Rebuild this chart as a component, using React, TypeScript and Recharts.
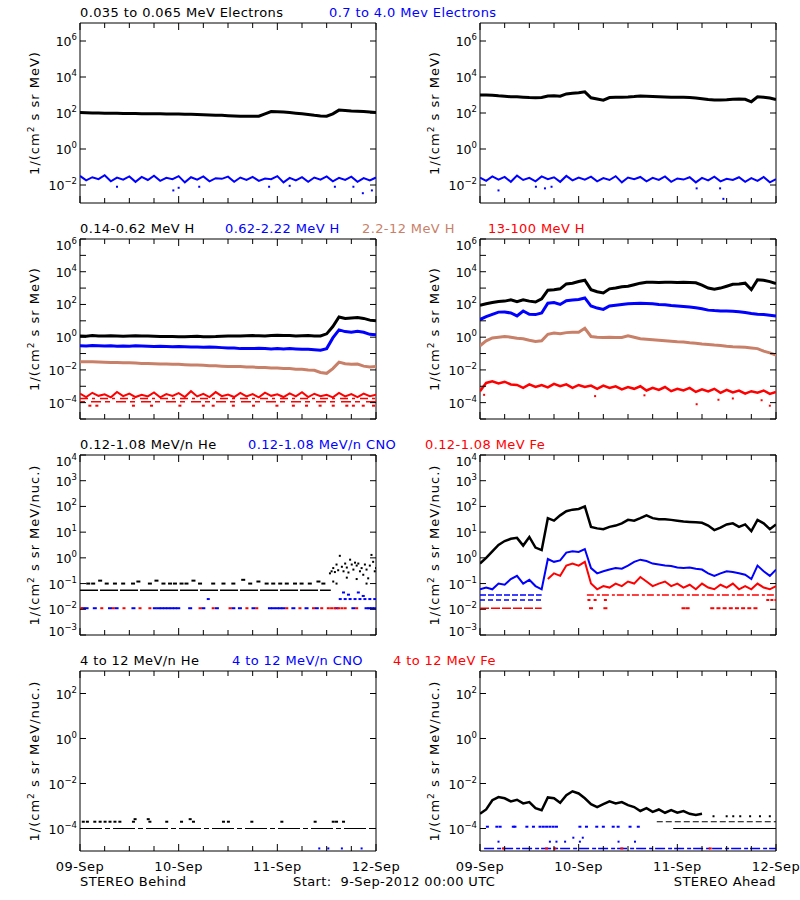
import React from "react"
import { ComposedChart, Line, Scatter, XAxis, YAxis, ReferenceArea } from "recharts"

// hours since 9-Sep-2012 00:00 UTC, 1.5 h steps
const HOURS = [
  0, 1.5, 3, 4.5, 6, 7.5, 9,
  10.5, 12, 13.5, 15, 16.5, 18, 19.5,
  21, 22.5, 24, 25.5, 27, 28.5, 30,
  31.5, 33, 34.5, 36, 37.5, 39, 40.5,
  42, 43.5, 45, 46.5, 48, 49.5, 51,
  52.5, 54, 55.5, 57, 58.5, 60, 61.5,
  63, 64.5, 66, 67.5, 69, 70.5, 72,
]
const X_TICKS = [0, 6, 12, 18, 24, 30, 36, 42, 48, 54, 60, 66, 72]
const DAY_TICKS = [0, 24, 48, 72]
const DAY_LABELS = ["09-Sep", "10-Sep", "11-Sep", "12-Sep"]

// y tick marks / labelled ticks for each row
const ROW1_MARKS = [1e-2, 1, 1e2, 1e4, 1e6]
const ROW1_LABELS = [1e-2, 1, 1e2, 1e4, 1e6]
const ROW2_MARKS = [1e-5, 1e-4, 1e-3, 1e-2, 1e-1, 1, 1e1, 1e2, 1e3, 1e4, 1e5, 1e6]
const ROW2_LABELS = [1e-4, 1e-2, 1, 1e2, 1e4, 1e6]
const ROW3_MARKS = [1e-3, 1e-2, 1e-1, 1, 1e1, 1e2, 1e3, 1e4]
const ROW3_LABELS = [1e-3, 1e-2, 1e-1, 1, 1e1, 1e2, 1e3, 1e4]
const ROW4_MARKS = [1e-4, 1e-2, 1, 1e2]
const ROW4_LABELS = [1e-4, 1e-2, 1, 1e2]

// --- electrons
const behindElecLow = [
  105, 102, 100, 100, 98, 97, 96,
  95, 94, 93, 92, 91, 90, 90,
  89, 88, 87, 85, 84, 82, 80,
  78, 76, 74, 71, 69, 67, 66,
  66, 66, 90, 120, 118, 112, 105,
  98, 90, 82, 74, 68, 66, 90,
  145, 138, 130, 125, 122, 115, 108,
]
const behindElecHigh = [
  0.032, 0.018, 0.027, 0.021, 0.035, 0.016, 0.026,
  0.02, 0.03, 0.015, 0.028, 0.019, 0.033, 0.017,
  0.025, 0.021, 0.031, 0.014, 0.027, 0.02, 0.03,
  0.016, 0.024, 0.022, 0.029, 0.015, 0.026, 0.019,
  0.028, 0.017, 0.023, 0.021, 0.031, 0.014, 0.025,
  0.018, 0.027, 0.015, 0.026, 0.02, 0.03, 0.016,
  0.025, 0.019, 0.029, 0.015, 0.024, 0.018, 0.026,
]
const behindElecHighOutT = [9, 22.7, 24, 29, 46, 51, 62, 66.5, 68.8, 71]
const behindElecHighOutV = [0.008, 0.005, 0.007, 0.008, 0.008, 0.009, 0.008, 0.008, 0.0035, 0.005]

const aheadElecLow = [
  1000, 1000, 980, 900, 850, 800, 800,
  760, 720, 700, 720, 880, 900, 850,
  1150, 1250, 1350, 1500, 700, 600, 520,
  720, 740, 760, 780, 820, 880, 850,
  820, 800, 780, 760, 750, 740, 720,
  680, 620, 560, 530, 520, 540, 580,
  600, 580, 420, 800, 760, 680, 560,
]
const aheadElecHigh = [
  0.026, 0.017, 0.03, 0.02, 0.028, 0.015, 0.033,
  0.019, 0.025, 0.016, 0.03, 0.021, 0.027, 0.015,
  0.032, 0.018, 0.026, 0.02, 0.029, 0.016, 0.024,
  0.019, 0.031, 0.014, 0.026, 0.021, 0.028, 0.016,
  0.025, 0.019, 0.03, 0.015, 0.023, 0.02, 0.027,
  0.014, 0.025, 0.018, 0.029, 0.016, 0.022, 0.019,
  0.027, 0.015, 0.024, 0.017, 0.028, 0.014, 0.021,
]
const aheadElecHighOutT = [4.5, 13.6, 15.8, 17.4, 52.7, 58.4, 59.2]
const aheadElecHighOutV = [0.005, 0.008, 0.0065, 0.008, 0.0065, 0.0065, 0.0017]

// --- protons
const behindH1 = [
  1.2, 1.15, 1.25, 1.2, 1.18, 1.22, 1.2,
  1.15, 1.2, 1.22, 1.18, 1.2, 1.15, 1.12,
  1.1, 1.1, 1.08, 1.05, 1.1, 1.12, 1.05,
  1.08, 1.1, 1.15, 1.2, 1.18, 1.2, 1.22,
  1.25, 1.22, 1.2, 1.25, 1.3, 1.28, 1.25,
  1.2, 1.22, 1.25, 1.2, 1.18, 1.6, 4.5,
  17, 14, 15, 16, 14, 11, 10,
]
const behindH2 = [
  0.3, 0.29, 0.31, 0.3, 0.29, 0.3, 0.28,
  0.29, 0.28, 0.3, 0.29, 0.28, 0.27, 0.28,
  0.27, 0.26, 0.27, 0.26, 0.25, 0.25, 0.24,
  0.25, 0.24, 0.23, 0.22, 0.22, 0.2, 0.2,
  0.2, 0.21, 0.2, 0.19, 0.2, 0.19, 0.2,
  0.19, 0.18, 0.18, 0.17, 0.16, 0.2, 0.9,
  2.8, 2.2, 2.0, 2.3, 2.0, 1.5, 1.4,
]
const behindH3 = [
  0.032, 0.031, 0.031, 0.03, 0.029, 0.028, 0.028,
  0.027, 0.027, 0.026, 0.025, 0.025, 0.024, 0.023,
  0.023, 0.022, 0.022, 0.021, 0.02, 0.02, 0.019,
  0.018, 0.018, 0.017, 0.016, 0.016, 0.016, 0.015,
  0.015, 0.014, 0.014, 0.013, 0.013, 0.012, 0.012,
  0.011, 0.011, 0.01, 0.0095, 0.007, 0.0062, 0.012,
  0.03, 0.024, 0.022, 0.023, 0.017, 0.015, 0.016,
]
const behindH4 = [
  3.5e-4, 2.2e-4, 4e-4, 2.6e-4, 3.2e-4, 2.1e-4, 4.5e-4,
  2.5e-4, 3.6e-4, 2.2e-4, 3e-4, 2.4e-4, 4.2e-4, 2.1e-4,
  3.3e-4, 2.6e-4, 3.8e-4, 2.2e-4, 5e-4, 2.4e-4, 3.4e-4,
  2.2e-4, 4.4e-4, 2.5e-4, 3.1e-4, 2.2e-4, 3.9e-4, 2.4e-4,
  3.3e-4, 2.1e-4, 4.1e-4, 2.6e-4, 3.2e-4, 2.2e-4, 3.7e-4,
  2.4e-4, 4.3e-4, 2.2e-4, 3.5e-4, 2.5e-4, 3e-4, 2.1e-4,
  3.9e-4, 2.4e-4, 3.3e-4, 2.2e-4, 3.6e-4, 2.5e-4, 3e-4,
]
const behindH4LowT = [2.4, 4.1, 13, 17.4, 24.3, 30, 32.4, 37.3, 42.2, 47.9, 51.9, 55.1, 58.4, 61.6, 64.9, 66.5, 68.9, 71.4]
const H4_LEVEL_A = 1.8e-4
const H4_LEVEL_B = 1.15e-4
const H4_LEVEL_C = 6.5e-5

const aheadH1 = [
  90, 110, 130, 150, 160, 190, 150,
  190, 160, 140, 220, 750, 800, 900,
  1800, 2000, 2500, 3000, 800, 600, 500,
  900, 1000, 1200, 1300, 1600, 2000, 2300,
  2300, 2200, 2300, 2300, 2200, 2300, 2200,
  2100, 1500, 1000, 850, 1000, 1300, 1700,
  1800, 2000, 800, 3200, 3000, 2500, 1900,
]
const aheadH2 = [
  12, 18, 25, 34, 35, 30, 20,
  40, 25, 24, 30, 120, 130, 100,
  170, 190, 200, 250, 80, 60, 50,
  80, 90, 100, 110, 115, 120, 115,
  110, 100, 95, 85, 80, 75, 70,
  62, 55, 45, 42, 40, 40, 38,
  36, 32, 28, 25, 24, 22, 20,
]
const aheadH3 = [
  0.3, 0.6, 0.9, 1.0, 1.1, 1.0, 0.85,
  0.8, 0.65, 0.55, 0.6, 1.5, 1.8, 1.6,
  1.9, 2.0, 2.0, 3.5, 1.1, 1.0, 0.95,
  1.0, 0.95, 0.95, 1.2, 1.0, 0.8, 0.75,
  0.7, 0.65, 0.6, 0.56, 0.52, 0.5, 0.45,
  0.42, 0.38, 0.36, 0.33, 0.31, 0.28, 0.26,
  0.25, 0.24, 0.22, 0.2, 0.14, 0.11, 0.08,
]
const aheadH4 = [
  5e-4, 1.6e-3, 2e-3, 1.5e-3, 1.9e-3, 1.3e-3, 1.2e-3,
  8e-4, 1.3e-3, 9e-4, 1.2e-3, 8.5e-4, 1.4e-3, 1e-3,
  1.3e-3, 8e-4, 1.2e-3, 9e-4, 1.1e-3, 7e-4, 1.1e-3,
  8e-4, 1e-3, 6.5e-4, 9e-4, 7e-4, 1e-3, 5.5e-4,
  8e-4, 6e-4, 9e-4, 5e-4, 7e-4, 5.5e-4, 8e-4,
  4.5e-4, 6.5e-4, 4.8e-4, 7e-4, 4e-4, 6e-4, 4.2e-4,
  5.5e-4, 3.5e-4, 5e-4, 4e-4, 5.5e-4, 3.4e-4, 4.5e-4,
]
const aheadH4OutT = [1, 28, 40, 52.7, 58, 61.5, 68.5, 70.5]
const aheadH4OutV = [3e-4, 2.5e-4, 2.8e-4, 8e-5, 1.5e-4, 1.8e-4, 1.4e-4, 6.5e-5]

// --- 0.12-1.08 MeV/n heavy ions
const BEHIND_HE_FLOOR = 0.055
const behindHeUpT = [2, 3.2, 4.9, 6.5, 8.5, 10.5, 12.9, 14.2, 17, 18.6, 20.3, 21.9, 23.1, 24.7, 25.9, 27.6, 29.2, 32.4, 34.9, 37.3, 39.7, 41.4, 43.4, 45.4, 47, 48.7, 50.3, 52.3, 53.9, 55.9, 58, 59.2]
const behindHeUpV = [0.1, 0.1, 0.13, 0.1, 0.1, 0.1, 0.1, 0.12, 0.1, 0.13, 0.1, 0.1, 0.1, 0.1, 0.1, 0.13, 0.1, 0.1, 0.1, 0.1, 0.14, 0.1, 0.12, 0.1, 0.1, 0.1, 0.1, 0.1, 0.1, 0.1, 0.12, 0.1]
const behindHeLateT = [60.8, 61.2, 61.6, 62, 62.4, 62.8, 63.2, 63.7, 64.1, 64.5, 64.9, 65.3, 65.7, 66.1, 66.5, 66.9, 67.3, 67.7, 68.1, 68.5, 68.9, 69.3, 69.7, 70.1, 70.5, 70.9, 71.3, 71.7, 72, 62.4, 64.9, 67.3, 69.7, 61.6]
const behindHeLateV = [0.25, 0.3, 0.4, 0.28, 0.55, 0.33, 1.2, 0.45, 0.3, 0.6, 0.42, 0.27, 0.85, 0.55, 0.35, 0.65, 0.5, 0.6, 0.3, 0.4, 0.22, 0.55, 0.35, 0.16, 0.5, 1.3, 0.7, 0.3, 0.4, 0.1, 0.17, 0.15, 0.1, 0.12]
const ONE_COUNT_LOW = 0.011
const behindCnoT = [0.8, 1.6, 3.6, 7.3, 8.9, 13, 18.2, 19.1, 19.9, 20.7, 21.5, 22.3, 23.1, 23.9, 26.8, 30, 33.3, 37.3, 38.9, 42.2, 46.2, 47, 47.9, 48.7, 49.5, 51.9, 55.1, 57.6, 62.4, 66.5, 69.7, 70.4, 71, 71.7]
const behindFeT = [0.4, 5.3, 8.1, 10.7, 14.6, 17, 29.2, 32.4, 36.5, 40.6, 43, 50.3, 53.5, 56.8, 58.8, 60.4, 61.2, 62, 62.9, 63.7, 64.5, 67.3]
const behindCnoHiT = [31.2, 63.3, 64.5, 65.7, 66.9, 68.1, 69.3, 70.5, 71.7, 65.3, 67.7, 68.9, 64.1]
const behindCnoHiV = [0.025, 0.025, 0.025, 0.025, 0.025, 0.025, 0.025, 0.025, 0.025, 0.037, 0.045, 0.033, 0.045]

const aheadHe = [
  0.6, 1.0, 1.8, 3.2, 4.5, 5.5, 6.0,
  3.0, 6.5, 2.5, 2.0, 35, 28, 45,
  65, 75, 80, 100, 16, 14, 13,
  16, 18, 22, 30, 28, 35, 45,
  35, 32, 32, 30, 28, 26, 25,
  24, 23, 18, 12, 15, 20, 22,
  16, 20, 11, 30, 22, 13, 20,
]
const aheadCno = [
  0.06, 0.07, 0.06, 0.1, 0.09, 0.15, 0.2,
  0.1, 0.14, 0.08, 0.06, 0.9, 0.7, 0.8,
  1.6, 1.8, 1.7, 2.2, 0.4, 0.25, 0.3,
  0.35, 0.4, 0.38, 0.5, 0.7, 0.85, 0.75,
  0.6, 0.55, 0.5, 0.48, 0.42, 0.4, 0.42,
  0.38, 0.35, 0.25, 0.2, 0.25, 0.3, 0.28,
  0.25, 0.22, 0.15, 0.5, 0.3, 0.2, 0.35,
]
const aheadFe = [
  null, null, null, null, null, null, null,
  null, null, null, null, 0.15, 0.25, 0.2,
  0.5, 0.6, 0.5, 0.7, 0.1, 0.06, 0.08,
  0.07, 0.1, 0.08, 0.12, 0.1, 0.18, 0.12,
  0.08, 0.1, 0.12, 0.08, 0.1, 0.07, 0.09,
  0.06, 0.1, 0.07, 0.06, 0.09, 0.07, 0.1,
  0.06, 0.08, 0.06, 0.1, 0.07, 0.06, 0.08,
]
const LEVEL_036 = 0.036
const LEVEL_023 = 0.023
const aheadFe023T = [26.5, 28, 30.5, 70, 71, 72]
const aheadFe011T = [27, 30.5, 49.5, 50.5, 56.5, 58, 59.5, 61, 62.5, 64, 65.5, 67]

// --- 4-12 MeV/n heavy ions
const HI_FLOOR = 1e-4
const HI_LEVEL2 = 2e-4
const behindHeHiT = [0.8, 1.8, 3.6, 4.9, 6.1, 7.3, 8.5, 9.7, 13, 13.4, 16.6, 17, 21.1, 24.7, 26.8, 27.6, 34.9, 36.1, 41.8, 49.1, 57.2, 61.6, 62.4, 64.1]
const behindHeHiV = [2e-4, 2e-4, 2e-4, 2e-4, 2e-4, 2e-4, 2e-4, 2e-4, 2e-4, 2.6e-4, 2.6e-4, 2e-4, 2e-4, 2e-4, 2.6e-4, 2e-4, 2e-4, 2e-4, 2e-4, 2e-4, 2e-4, 2e-4, 2e-4, 2e-4]
const CNO_HI_FLOOR = 1.3e-5
const behindCnoHiT2 = [58.2, 60.4, 63.7, 68.5]

const aheadHeHi = [
  4.5e-4, 7e-4, 1.8e-3, 2.5e-3, 2.2e-3, 1.6e-3, 1.9e-3,
  1.3e-3, 1.5e-3, 8e-4, 6.5e-4, 2.4e-3, 2.2e-3, 1.4e-3,
  3e-3, 4.5e-3, 3.6e-3, 2.2e-3, 1.2e-3, 9e-4, 1.2e-3,
  1.6e-3, 1.3e-3, 1.5e-3, 1.1e-3, 9e-4, 6e-4, 8e-4,
  5.5e-4, 7e-4, 5e-4, 6.5e-4, 5e-4, 6e-4, 4.5e-4,
  4e-4, 4.5e-4, null, null, null, null, null,
  null, null, null, null, null, null, null,
]
const aheadHeHiUpT = [56.8, 60, 61.6, 63.3, 65.7, 68.1, 70.5]
const AHEAD_HE_HI_UP = 3.5e-4
const aheadCnoHiRowT = [1.8, 4.1, 4.9, 8.1, 8.5, 11.4, 13, 14.6, 15.4, 16.2, 17, 17.8, 18.6, 24.3, 25.9, 28.4, 30, 32.4, 33.6, 36.5, 38.5]
const CNO_HI_ROW = 1.2e-4
const aheadCnoHiMidT = [4.5, 17, 18.6, 20.7, 24.3, 33.7, 37.7, 22.7, 25]
const aheadCnoHiMidV = [2.6e-5, 2.6e-5, 2.6e-5, 2.6e-5, 2.6e-5, 2.6e-5, 2.6e-5, 3.9e-5, 3.9e-5]
const aheadFeHiT = [5.7, 16.2, 18.2, 34.5, 56]

const BLACK = "#000000"
const BLUE = "#0000ff"
const BROWN = "#c98068"
const RED = "#ff0000"
const FONT = "'DejaVu Sans', sans-serif"

const PL = 80
const PR = 376
const PT = 10
const PB = 190
const ROW_TOPS = [23, 239, 455, 671]

interface Pt {
  t: number
  v: number | null
}

interface Trace {
  kind: "line" | "dots"
  color: string
  data: Pt[]
  width?: number
  dash?: string
  w?: number
  h?: number
}

interface PanelDef {
  left: number
  row: number
  domain: [number, number]
  marks: number[]
  labels: number[]
  dates: boolean
  traces: Trace[]
}

const series = (vals: (number | null)[]): Pt[] => HOURS.map((t, i) => ({ t, v: vals[i] }))
const points = (ts: number[], vs: number[] | number): Pt[] =>
  ts.map((t, i) => ({ t, v: Array.isArray(vs) ? vs[i] : vs }))
const level = (t0: number, t1: number, v: number): Pt[] => [{ t: t0, v }, { t: t1, v }]

const PANELS: PanelDef[] = [
  {
    left: 0, row: 0, domain: [1e-3, 1e7], marks: ROW1_MARKS, labels: ROW1_LABELS, dates: false,
    traces: [
      { kind: "line", color: BLUE, data: series(behindElecHigh), width: 2 },
      { kind: "dots", color: BLUE, data: points(behindElecHighOutT, behindElecHighOutV), w: 2, h: 2 },
      { kind: "line", color: BLACK, data: series(behindElecLow), width: 3 },
    ],
  },
  {
    left: 400, row: 0, domain: [1e-3, 1e7], marks: ROW1_MARKS, labels: ROW1_LABELS, dates: false,
    traces: [
      { kind: "line", color: BLUE, data: series(aheadElecHigh), width: 2 },
      { kind: "dots", color: BLUE, data: points(aheadElecHighOutT, aheadElecHighOutV), w: 2, h: 2 },
      { kind: "line", color: BLACK, data: series(aheadElecLow), width: 3 },
    ],
  },
  {
    left: 0, row: 1, domain: [1e-5, 1e6], marks: ROW2_MARKS, labels: ROW2_LABELS, dates: false,
    traces: [
      { kind: "line", color: RED, data: level(0, 72, H4_LEVEL_A), width: 1.5, dash: "8 4 3 5" },
      { kind: "line", color: RED, data: level(0, 72, H4_LEVEL_B), width: 1.5, dash: "5 6 10 4" },
      { kind: "dots", color: RED, data: points(behindH4LowT, H4_LEVEL_C), w: 3, h: 2 },
      { kind: "line", color: RED, data: series(behindH4), width: 2 },
      { kind: "line", color: BROWN, data: series(behindH3), width: 3 },
      { kind: "line", color: BLUE, data: series(behindH2), width: 3 },
      { kind: "line", color: BLACK, data: series(behindH1), width: 3 },
    ],
  },
  {
    left: 400, row: 1, domain: [1e-5, 1e6], marks: ROW2_MARKS, labels: ROW2_LABELS, dates: false,
    traces: [
      { kind: "line", color: RED, data: series(aheadH4), width: 2.5 },
      { kind: "dots", color: RED, data: points(aheadH4OutT, aheadH4OutV), w: 2, h: 2 },
      { kind: "line", color: BROWN, data: series(aheadH3), width: 3 },
      { kind: "line", color: BLUE, data: series(aheadH2), width: 3 },
      { kind: "line", color: BLACK, data: series(aheadH1), width: 3 },
    ],
  },
  {
    left: 0, row: 2, domain: [1e-3, 1e4], marks: ROW3_MARKS, labels: ROW3_LABELS, dates: false,
    traces: [
      { kind: "dots", color: BLUE, data: points(behindCnoT, ONE_COUNT_LOW), w: 4, h: 2 },
      { kind: "dots", color: RED, data: points(behindFeT, ONE_COUNT_LOW), w: 3, h: 2 },
      { kind: "dots", color: BLUE, data: points(behindCnoHiT, behindCnoHiV), w: 3, h: 2 },
      { kind: "line", color: BLACK, data: level(0, 61, BEHIND_HE_FLOOR), width: 1.5, dash: "18 2" },
      { kind: "dots", color: BLACK, data: points(behindHeUpT, behindHeUpV), w: 4, h: 2 },
      { kind: "dots", color: BLACK, data: points(behindHeLateT, behindHeLateV), w: 2, h: 2 },
    ],
  },
  {
    left: 400, row: 2, domain: [1e-3, 1e4], marks: ROW3_MARKS, labels: ROW3_LABELS, dates: false,
    traces: [
      { kind: "line", color: BLUE, data: level(0, 15, LEVEL_036), width: 1.5, dash: "6 2" },
      { kind: "line", color: BLUE, data: level(0, 15, LEVEL_023), width: 1.5, dash: "5 3" },
      { kind: "line", color: RED, data: level(0, 15, ONE_COUNT_LOW), width: 1.5, dash: "9 2" },
      { kind: "line", color: RED, data: level(26, 72, LEVEL_036), width: 1.5, dash: "7 3 3 2" },
      { kind: "dots", color: RED, data: points(aheadFe023T, LEVEL_023), w: 3, h: 2 },
      { kind: "dots", color: RED, data: points(aheadFe011T, ONE_COUNT_LOW), w: 4, h: 2 },
      { kind: "line", color: BLACK, data: series(aheadHe), width: 2.5 },
      { kind: "line", color: BLUE, data: series(aheadCno), width: 2 },
      { kind: "line", color: RED, data: series(aheadFe), width: 2 },
    ],
  },
  {
    left: 0, row: 3, domain: [1e-5, 1e3], marks: ROW4_MARKS, labels: ROW4_LABELS, dates: true,
    traces: [
      { kind: "line", color: BLACK, data: level(0, 72, HI_FLOOR), width: 1.2, dash: "22 3 5 3" },
      { kind: "dots", color: BLACK, data: points(behindHeHiT, behindHeHiV), w: 3, h: 2 },
      { kind: "dots", color: BLUE, data: points(behindCnoHiT2, CNO_HI_FLOOR), w: 2, h: 2 },
    ],
  },
  {
    left: 400, row: 3, domain: [1e-5, 1e3], marks: ROW4_MARKS, labels: ROW4_LABELS, dates: true,
    traces: [
      { kind: "line", color: BLUE, data: level(1, 72, CNO_HI_FLOOR), width: 1.5, dash: "10 3 4 2" },
      { kind: "dots", color: BLUE, data: points(aheadCnoHiRowT, CNO_HI_ROW), w: 3, h: 2 },
      { kind: "dots", color: BLUE, data: points(aheadCnoHiMidT, aheadCnoHiMidV), w: 2, h: 2 },
      { kind: "dots", color: RED, data: points(aheadFeHiT, CNO_HI_FLOOR), w: 3, h: 2 },
      { kind: "line", color: BLACK, data: level(43, 72, HI_LEVEL2), width: 1.2, dash: "6 3" },
      { kind: "line", color: BLACK, data: level(47, 72, HI_FLOOR), width: 1.2 },
      { kind: "dots", color: BLACK, data: points(aheadHeHiUpT, AHEAD_HE_HI_UP), w: 2, h: 2 },
      { kind: "line", color: BLACK, data: series(aheadHeHi), width: 2.5 },
    ],
  },
]

const TITLES = [
  { row: 0, x: 80, text: "0.035 to 0.065 MeV Electrons", color: BLACK },
  { row: 0, x: 329, text: "0.7 to 4.0 Mev Electrons", color: BLUE },
  { row: 1, x: 80, text: "0.14-0.62 MeV H", color: BLACK },
  { row: 1, x: 225, text: "0.62-2.22 MeV H", color: BLUE },
  { row: 1, x: 362, text: "2.2-12 MeV H", color: BROWN },
  { row: 1, x: 488, text: "13-100 MeV H", color: RED },
  { row: 2, x: 80, text: "0.12-1.08 MeV/n He", color: BLACK },
  { row: 2, x: 248, text: "0.12-1.08 MeV/n CNO", color: BLUE },
  { row: 2, x: 425, text: "0.12-1.08 MeV Fe", color: RED },
  { row: 3, x: 80, text: "4 to 12 MeV/n He", color: BLACK },
  { row: 3, x: 232, text: "4 to 12 MeV/n CNO", color: BLUE },
  { row: 3, x: 393, text: "4 to 12 MeV Fe", color: RED },
]

function yTick(labels: number[], domain: [number, number]) {
  const top = Math.round(Math.log10(domain[1]))
  const bottom = Math.round(Math.log10(domain[0]))
  return (p: any) => {
    const y = p.y
    const v = p.payload.value
    const exp = Math.round(Math.log10(v))
    const show = labels.some((l) => Math.round(Math.log10(l)) === exp)
    // labels at the frame edges are nudged inside, as in the original
    const shift = exp === top ? 6 : exp === bottom ? -4 : 0
    return (
      <g>
        <line x1={PL} x2={PL + 6} y1={y} y2={y} stroke={BLACK} />
        <line x1={PR - 6} x2={PR} y1={y} y2={y} stroke={BLACK} />
        {show && (
          <text x={PL - 3} y={y + 5 + shift} textAnchor="end" fontSize={12.5} fill={BLACK} fontFamily={FONT}>
            10
            <tspan dy={-6} fontSize={8.5}>
              {exp < 0 ? "\u2212" + -exp : String(exp)}
            </tspan>
          </text>
        )}
      </g>
    )
  }
}

function xTick(dates: boolean) {
  return (p: any) => {
    const x = p.x
    const di = DAY_TICKS.indexOf(p.payload.value)
    const len = di >= 0 ? 7 : 5
    return (
      <g>
        <line x1={x} x2={x} y1={PB} y2={PB - len} stroke={BLACK} />
        <line x1={x} x2={x} y1={PT} y2={PT + len} stroke={BLACK} />
        {dates && di >= 0 && (
          <text x={x} y={PB + 20} textAnchor="middle" fontSize={13} letterSpacing={0.5} fill={BLACK} fontFamily={FONT}>
            {DAY_LABELS[di]}
          </text>
        )}
      </g>
    )
  }
}

function Panel({ def }: { def: PanelDef }) {
  return (
    <div style={{ position: "absolute", left: def.left, top: ROW_TOPS[def.row] - PT, width: 400, height: 220 }}>
      <ComposedChart width={400} height={220} margin={{ top: PT, right: 400 - PR, bottom: 0, left: 0 }}>
        <XAxis
          dataKey="t"
          type="number"
          domain={[0, 72]}
          ticks={X_TICKS}
          interval={0}
          height={30}
          axisLine={false}
          tickLine={false}
          tick={xTick(def.dates)}
          allowDataOverflow
        />
        <YAxis
          type="number"
          scale="log"
          domain={def.domain}
          ticks={def.marks}
          interval={0}
          width={PL}
          axisLine={false}
          tickLine={false}
          tick={yTick(def.labels, def.domain)}
          allowDataOverflow
        />
        {def.traces.map((tr, i) =>
          tr.kind === "line" ? (
            <Line
              key={i}
              data={tr.data}
              dataKey="v"
              stroke={tr.color}
              strokeWidth={tr.width ?? 2}
              strokeDasharray={tr.dash}
              dot={false}
              activeDot={false}
              connectNulls={false}
              isAnimationActive={false}
            />
          ) : (
            <Scatter
              key={i}
              data={tr.data}
              dataKey="v"
              fill={tr.color}
              isAnimationActive={false}
              shape={(s: any) => (
                <rect x={s.cx - (tr.w ?? 2) / 2} y={s.cy - (tr.h ?? 2) / 2} width={tr.w ?? 2} height={tr.h ?? 2} fill={tr.color} />
              )}
            />
          )
        )}
        <ReferenceArea x1={0} x2={72} y1={def.domain[0]} y2={def.domain[1]} fill="none" fillOpacity={0} stroke={BLACK} strokeWidth={1} />
      </ComposedChart>
    </div>
  )
}

function YLabel({ cx, cy, nuc }: { cx: number; cy: number; nuc: boolean }) {
  return (
    <div
      style={{
        position: "absolute",
        left: cx,
        top: cy,
        transform: "translate(-50%, -50%) rotate(-90deg)",
        whiteSpace: "nowrap",
        fontSize: 13,
        lineHeight: "15px",
        letterSpacing: 1,
      }}
    >
      1/(cm<sup style={{ fontSize: 9 }}>2</sup> s sr MeV{nuc ? "/nuc." : ""})
    </div>
  )
}

const TEXT_STYLE = { position: "absolute" as const, fontSize: 13, lineHeight: "14px", letterSpacing: 0.4, whiteSpace: "pre" as const }

export default function App() {
  return (
    <div
      style={{
        position: "absolute",
        left: 0,
        top: 0,
        width: 800,
        height: 900,
        background: "#fff",
        color: BLACK,
        fontFamily: FONT,
        overflow: "hidden",
      }}
    >
      {PANELS.map((p, i) => (
        <Panel key={i} def={p} />
      ))}
      {TITLES.map((t, i) => (
        <div key={i} style={{ ...TEXT_STYLE, left: t.x, top: ROW_TOPS[t.row] - 17, color: t.color }}>
          {t.text}
        </div>
      ))}
      {ROW_TOPS.map((top, r) => (
        <React.Fragment key={r}>
          <YLabel cx={33} cy={top + 90} nuc={r >= 2} />
          <YLabel cx={433} cy={top + 90} nuc={r >= 2} />
        </React.Fragment>
      ))}
      <div style={{ ...TEXT_STYLE, left: 80, top: 875 }}>STEREO Behind</div>
      <div style={{ ...TEXT_STYLE, left: 293, top: 875 }}>Start:  9-Sep-2012 00:00 UTC</div>
      <div style={{ ...TEXT_STYLE, right: 24, top: 875 }}>STEREO Ahead</div>
    </div>
  )
}
